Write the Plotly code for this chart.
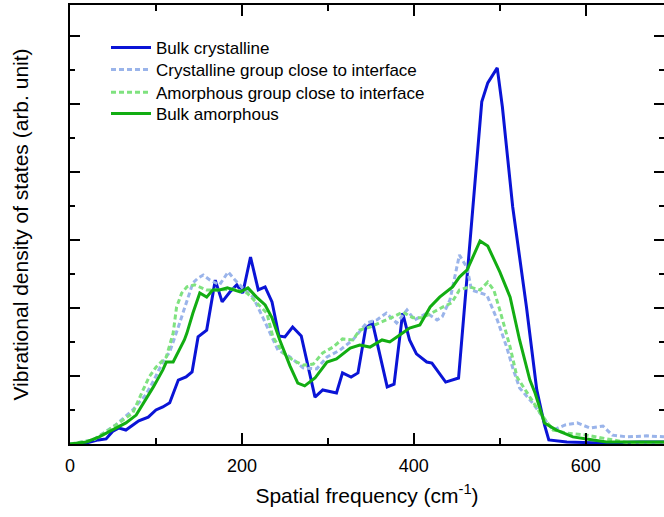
import plotly.graph_objects as go

# ---- data (x in cm^-1, y in arb. units) ----
bulk_cryst_x = [0, 19, 33, 42, 50, 57, 65, 73, 80, 91, 100, 108, 116, 126, 135, 142, 149, 159, 169, 177, 186, 194, 201, 210, 219, 227, 235, 243, 250, 259, 269, 285, 294, 310, 317, 327, 335, 344, 352, 369, 377, 387, 395, 403, 415, 421, 437, 452, 479, 486, 497, 503, 515, 531, 543, 552, 557, 578, 616, 663, 700]
bulk_cryst_y = [0, 0.03, 0.12, 0.15, 0.38, 0.47, 0.41, 0.56, 0.68, 0.79, 1.0, 1.09, 1.21, 1.88, 1.97, 2.12, 3.15, 3.35, 4.82, 4.18, 4.47, 4.68, 4.44, 5.5, 4.53, 4.62, 4.18, 3.18, 3.15, 3.44, 3.18, 1.38, 1.59, 1.5, 2.09, 1.97, 2.09, 3.41, 3.56, 1.68, 1.76, 3.85, 3.06, 2.65, 2.41, 2.38, 1.82, 1.94, 10.06, 10.62, 11.06, 9.91, 6.97, 4.03, 1.59, 0.56, 0.12, 0.06, 0.03, 0.06, 0.06]

cryst_iface_x = [0, 27, 53, 73, 88, 97, 108, 116, 126, 136, 143, 149, 155, 163, 174, 184, 192, 201, 213, 224, 236, 242, 256, 271, 287, 299, 314, 329, 345, 357, 368, 380, 392, 401, 415, 427, 433, 442, 453, 462, 467, 477, 485, 497, 508, 515, 523, 538, 550, 562, 576, 590, 605, 620, 631, 648, 671, 691]
cryst_iface_y = [0, 0.12, 0.56, 1.0, 1.44, 1.85, 2.41, 2.71, 3.44, 4.24, 4.74, 4.88, 4.97, 4.82, 4.68, 5.06, 4.82, 4.59, 4.32, 3.74, 3.06, 2.76, 2.56, 2.24, 2.21, 2.56, 2.76, 3.06, 3.56, 3.65, 3.85, 3.56, 3.94, 3.65, 3.85, 3.65, 3.74, 4.24, 5.56, 5.18, 4.53, 4.44, 4.38, 3.65, 2.85, 2.24, 1.65, 1.21, 0.79, 0.41, 0.56, 0.62, 0.47, 0.53, 0.26, 0.21, 0.24, 0.21]

amor_iface_x = [0, 27, 45, 62, 73, 85, 92, 100, 112, 120, 124, 130, 136, 145, 159, 174, 190, 206, 217, 229, 236, 248, 259, 271, 283, 294, 306, 317, 329, 337, 349, 360, 376, 387, 399, 410, 422, 434, 444, 453, 465, 477, 486, 493, 500, 512, 520, 535, 547, 562, 578, 601, 624, 651, 691]
amor_iface_y = [0, 0.12, 0.41, 0.71, 0.91, 1.59, 1.97, 2.26, 2.56, 3.26, 4.03, 4.44, 4.62, 4.68, 4.53, 4.53, 4.56, 4.44, 4.15, 3.85, 3.15, 2.68, 2.47, 2.32, 2.35, 2.68, 2.85, 3.09, 3.06, 3.35, 3.44, 3.56, 3.74, 3.88, 3.71, 3.71, 3.88, 4.03, 4.15, 4.53, 4.62, 4.53, 4.76, 4.53, 3.94, 2.85, 1.97, 1.38, 0.91, 0.41, 0.32, 0.26, 0.15, 0.03, 0.03]

bulk_amor_x = [0, 19, 34, 50, 65, 77, 88, 97, 108, 112, 120, 127, 133, 136, 143, 151, 159, 166, 174, 183, 190, 198, 207, 217, 227, 235, 244, 256, 265, 273, 285, 299, 310, 326, 337, 349, 363, 372, 384, 395, 407, 419, 430, 445, 453, 462, 477, 486, 500, 512, 523, 535, 541, 552, 566, 585, 601, 624, 691]
bulk_amor_y = [0, 0.06, 0.21, 0.41, 0.62, 0.85, 1.29, 1.68, 2.18, 2.41, 2.41, 2.76, 3.06, 3.26, 3.85, 4.44, 4.32, 4.53, 4.53, 4.59, 4.53, 4.47, 4.59, 4.32, 4.09, 3.71, 3.06, 2.29, 1.79, 1.71, 1.94, 2.41, 2.5, 2.82, 2.91, 2.85, 3.06, 3.0, 3.21, 3.41, 3.5, 4.03, 4.32, 4.62, 4.91, 5.12, 5.97, 5.82, 5.06, 4.32, 3.06, 1.88, 1.5, 0.62, 0.41, 0.21, 0.15, 0.06, 0.06]

series_names = ["Bulk crystalline", "Crystalline group close to interface",
                "Amorphous group close to interface", "Bulk amorphous"]
x_tick_vals = [0, 200, 400, 600]
x_tick_text = ["0", "200", "400", "600"]

X_RANGE = [0, 691]
Y_RANGE = [0, 12.91]

FONT = "Arial, Liberation Sans, Helvetica, sans-serif"

styles = [dict(color="#0a14d6", width=3),
          dict(color="#9ab4ea", width=3, dash="5px,3px"),
          dict(color="#7fe27f", width=3, dash="5px,3px"),
          dict(color="#12ad12", width=3)]
xs = [bulk_cryst_x, cryst_iface_x, amor_iface_x, bulk_amor_x]
ys = [bulk_cryst_y, cryst_iface_y, amor_iface_y, bulk_amor_y]
legend_ids = ["legend", "legend2", "legend3", "legend4"]
legend_rows = [0.902, 0.852, 0.800, 0.752]

fig = go.Figure()
for i in range(4):
    fig.add_trace(go.Scatter(x=xs[i], y=ys[i], mode="lines", name=series_names[i],
                             line=styles[i], legend=legend_ids[i]))
# invisible trace to carry the right-hand tick axis
fig.add_trace(go.Scatter(x=[0], y=[0], yaxis="y2", mode="lines", showlegend=False,
                         hoverinfo="skip", line=dict(width=0), opacity=0))

legend_common = dict(x=0.0606, xanchor="left", yanchor="middle",
                     bgcolor="rgba(0,0,0,0)", font=dict(size=17, family=FONT),
                     itemwidth=40)
layout_legends = {lid: dict(legend_common, y=legend_rows[i]) for i, lid in enumerate(legend_ids)}

fig.update_layout(
    width=664, height=517,
    margin=dict(l=70, r=0, t=5, b=73, autoexpand=False),
    paper_bgcolor="white", plot_bgcolor="white",
    font=dict(family=FONT, color="black"),
    showlegend=True,
    **layout_legends,
    xaxis=dict(range=X_RANGE, tickvals=x_tick_vals, ticktext=x_tick_text,
               automargin=False,
               ticks="inside", ticklen=11, tickwidth=2, tickcolor="black",
               showline=True, linewidth=2, linecolor="black", mirror="ticks",
               showgrid=False, zeroline=False, ticklabelstandoff=4,
               minor=dict(tickvals=[100, 300, 500], ticks="inside", ticklen=6,
                          tickwidth=2, tickcolor="black"),
               tickfont=dict(size=18, family=FONT),
               title=dict(text="Spatial frequency (cm<sup>-1</sup>)",
                          font=dict(size=21, family=FONT), standoff=14)),
    yaxis=dict(range=Y_RANGE, tickvals=[2, 4, 6, 8, 10, 12], automargin=False,
               ticks="inside", ticklen=10, tickwidth=2, tickcolor="black",
               showline=True, linewidth=2, linecolor="black", mirror=False,
               showgrid=False, zeroline=False, showticklabels=False,
               minor=dict(tickvals=[1, 3, 5, 7, 9, 11], ticks="inside", ticklen=5,
                          tickwidth=2, tickcolor="black"),
               title=dict(text="Vibrational density of states (arb. unit)",
                          font=dict(size=21, family=FONT), standoff=34)),
    yaxis2=dict(range=Y_RANGE, overlaying="y", side="right", tickvals=[2, 4, 6, 8, 10, 12],
                automargin=False,
                ticks="inside", ticklen=10, tickwidth=2, tickcolor="black",
                showline=False, showgrid=False, zeroline=False, showticklabels=False,
                minor=dict(tickvals=[1, 3, 5, 7, 9, 11], ticks="inside", ticklen=5,
                           tickwidth=2, tickcolor="black")),
)

fig.write_html("out.html", config={"displayModeBar": False},
               post_script="document.body.style.margin='0';")
